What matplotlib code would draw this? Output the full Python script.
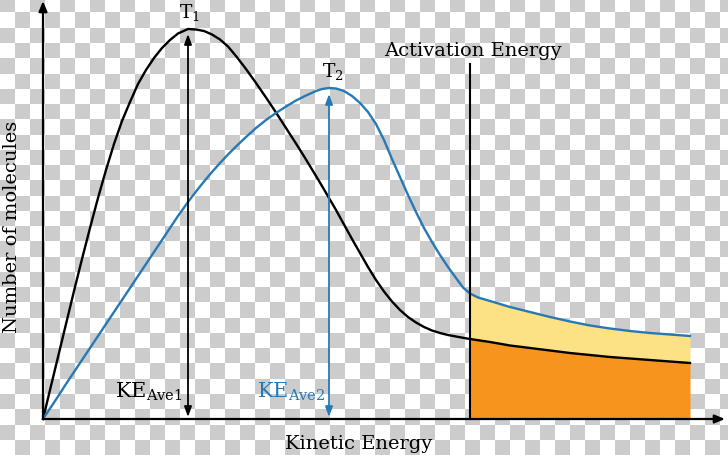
import numpy as np
import matplotlib
matplotlib.use("Agg")
import matplotlib.pyplot as plt

plt.rcParams['font.family'] = ['DejaVu Serif']
plt.rcParams['mathtext.fontset'] = 'dejavuserif'

# ---- data (kinetic energy / number of molecules, arbitrary units) ----
energy = [0, 7, 15, 23, 31, 39, 47, 55, 63, 71, 79, 87, 95, 103, 111, 119, 127, 135,
          145, 153, 161, 169, 177, 185, 193, 203, 213, 223, 233, 243, 253, 263, 273,
          279, 286, 293, 301, 309, 317, 325, 333, 341, 349, 357, 365, 373, 381, 389,
          397, 405, 413, 420, 427, 435, 447, 467, 487, 507, 527, 547, 567, 587, 607,
          627, 647]
counts_T1 = [0, 29, 62, 95, 128, 160, 191, 221, 249, 275, 298, 317, 335, 349, 361,
             371, 379, 385.5, 390, 389.5, 388, 384.5, 379.5, 372.5, 363, 350, 336,
             321.5, 306.5, 291, 275.5, 259.5, 243, 233, 221, 209, 194.5, 180, 166,
             152, 139, 127.5, 117.5, 109, 102, 96.5, 92, 88.5, 86, 84, 82.5, 81.2,
             80, 78.8, 77, 73.5, 71, 68.5, 66, 64, 62, 60.5, 59, 57.5, 56]
counts_T2 = [0, 10.5, 22.5, 35, 47, 59, 71, 83, 95, 107, 119, 131, 143, 155, 167,
             179, 191, 203, 217, 227.5, 237.5, 247, 256, 264.5, 272.5, 282, 291, 299,
             306, 312.5, 318.5, 323.5, 328, 330, 331, 330.5, 328, 323, 316, 307, 295,
             279, 260, 242, 224, 207, 191, 177, 164, 152, 141, 131.5, 125.5, 121.5,
             118, 112, 107, 102, 97.5, 93.5, 90.5, 88, 86, 84.5, 83]
activation_energy = 427
ke_ave1 = 145
ke_ave2 = 286
peak_T1 = 385
peak_T2 = 325

BLUE = '#2779b6'
ORANGE = '#f7941e'
YELLOW = '#fde185'

W, H = 728, 456
fig = plt.figure(figsize=(W / 100, H / 100), dpi=100)

# checkerboard "transparent" background
yy, xx = np.mgrid[0:H, 0:W]
col = np.floor(xx / 15.0).astype(int)
row = np.floor((yy - 13) / 15.26).astype(int) + 1
grey = ((col + row) % 2 == 0)
img = np.ones((H, W, 3))
img[grey] = 0.8
bg = fig.add_axes([0, 0, 1, 1], zorder=0)
bg.imshow(img, interpolation='nearest', aspect='auto', extent=(0, W, H, 0))
bg.axis('off')

ax = fig.add_axes([0, 0, 1, 1], zorder=1)
ax.set_facecolor('none')
ax.patch.set_alpha(0)
ax.set_xlim(-43, W - 43)
ax.set_ylim(-36, H - 36)
ax.axis('off')

e = np.array(energy)
t1 = np.array(counts_T1)
t2 = np.array(counts_T2)
mask = e >= activation_energy

ax.fill_between(e[mask], 0, t1[mask], color=ORANGE, lw=0, zorder=2)
ax.fill_between(e[mask], t1[mask], t2[mask], color=YELLOW, lw=0, zorder=2)

ax.plot(e, t1, color='black', lw=1.7, zorder=4, solid_joinstyle='round')
ax.plot(e, t2, color=BLUE, lw=1.7, zorder=4, solid_joinstyle='round')

# activation energy line
ax.plot([activation_energy, activation_energy], [0, 355], color='black', lw=1.5, zorder=5)

# axes with arrows
ax.annotate('', xy=(0, 418), xytext=(0, 0),
            arrowprops=dict(arrowstyle='-|>,head_length=0.6,head_width=0.25',
                            color='black', lw=1.6, shrinkA=0, shrinkB=0), zorder=6)
ax.annotate('', xy=(682, 0), xytext=(0, 0),
            arrowprops=dict(arrowstyle='-|>,head_length=0.6,head_width=0.25',
                            color='black', lw=1.6, shrinkA=0, shrinkB=0), zorder=6)

# average KE arrows
ax.annotate('', xy=(ke_ave1, peak_T1), xytext=(ke_ave1, 2),
            arrowprops=dict(arrowstyle='<|-|>,head_length=0.6,head_width=0.22',
                            color='black', lw=1.3, shrinkA=0, shrinkB=0), zorder=5)
ax.annotate('', xy=(ke_ave2, peak_T2), xytext=(ke_ave2, 2),
            arrowprops=dict(arrowstyle='<|-|>,head_length=0.6,head_width=0.22',
                            color=BLUE, lw=1.3, shrinkA=0, shrinkB=0), zorder=5)

# labels
ax.text(ke_ave1 + 2, 420 - 18, r'T$_{1}$', fontsize=13.5, ha='center', va='baseline')
ax.text(ke_ave2 + 4, 420 - 77, r'T$_{2}$', fontsize=13.5, ha='center', va='baseline')
ax.text(activation_energy + 3, 420 - 56, 'Activation Energy', fontsize=14,
        ha='center', va='baseline')
ax.text(ke_ave1 - 5, 420 - 398, r'KE$_{\mathrm{Ave1}}$', fontsize=15,
        ha='right', va='baseline')
ax.text(ke_ave2 - 4, 420 - 398, r'KE$_{\mathrm{Ave2}}$', fontsize=15,
        ha='right', va='baseline', color=BLUE)
ax.text(359 - 43, 420 - 449, 'Kinetic Energy', fontsize=14, ha='center',
        va='baseline')
ax.text(12 - 43, 420 - 227, 'Number of molecules', fontsize=14, ha='center',
        va='center', rotation=90)

fig.savefig('out.png', dpi=100)
